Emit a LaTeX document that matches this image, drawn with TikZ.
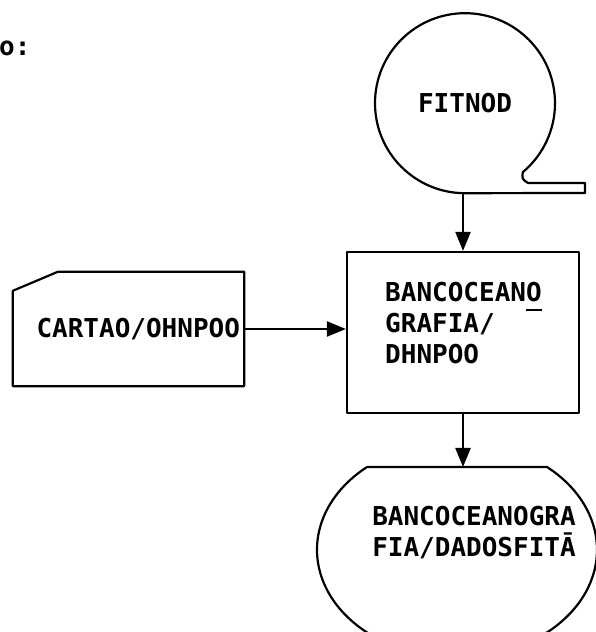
\documentclass[tikz,border=0pt]{standalone}
\usepackage{fontspec}
\setmonofont{DejaVu Sans Mono}
\usetikzlibrary{arrows.meta,calc}
\tikzset{
  lbl/.style={font=\ttfamily\bfseries\fontsize{26}{31}\selectfont, inner sep=0pt},
  shp/.style={draw=black, line width=2.2pt, line join=round},
  arr/.style={line width=2.2pt, -{Triangle[length=19pt,width=15pt]}},
}
\begin{document}
\begin{tikzpicture}[x=1pt,y=1pt]
\useasboundingbox (0,0) rectangle (596,632);
% heading fragment
\node[lbl, anchor=west] (head) at (-1,584) {o:};
% tape symbol
\node[circle, minimum size=180pt, inner sep=0pt, lbl] (tape) at (465,529) {FITNOD};
\draw[shp] (tape.south) arc[start angle=270, end angle=-50, radius=90]
   .. controls ($(tape.center)+(57,-76)$) .. ($(tape.center)+(63,-80)$)
   -- ($(tape.center)+(120,-80)$) -- ($(tape.center)+(120,-90)$) -- (tape.south) -- cycle;
% process box
\node[shp, rectangle, minimum width=232pt, minimum height=161pt, inner sep=0pt] (box) at (463,299.5) {};
\node[lbl, anchor=north west, align=left] (boxtext) at (385,350)
  {BANCOCEAN\rlap{O}\rule[-0.36em]{0.6em}{2pt}\\GRAFIA/\\DHNPOO};
% card
\node[lbl, rectangle, minimum width=231pt, minimum height=114pt, text width=223pt, align=right, inner xsep=4pt] (card) at (128.5,303) {CARTAO/OHNPOO};
\draw[shp] ($(card.north west)+(0,-19)$) -- ($(card.north west)+(45,0)$) -- (card.north east)
   -- (card.south east) -- (card.south west) -- cycle;
% storage
\node[minimum width=280pt, minimum height=216pt, inner sep=0pt] (store) at (457,82) {};
\draw[shp] ($(store.center)+({140*cos(130)},83)$) -- ($(store.center)+({140*cos(50)},83)$)
   arc[start angle=50, end angle=-230, x radius=140, y radius=108];
\node[lbl, align=left] (storetext) at (474,99) {BANCOCEANOGRA\\FIA/DADOSFITĀ};
% connectors
\draw[arr] (tape.south -| box.north) -- (box.north);
\draw[arr] (card.east) -- (card.east -| box.west);
\draw[arr] (box.south) -- (box.south |- {$(store.center)+(0,83)$});
\end{tikzpicture}
\end{document}
